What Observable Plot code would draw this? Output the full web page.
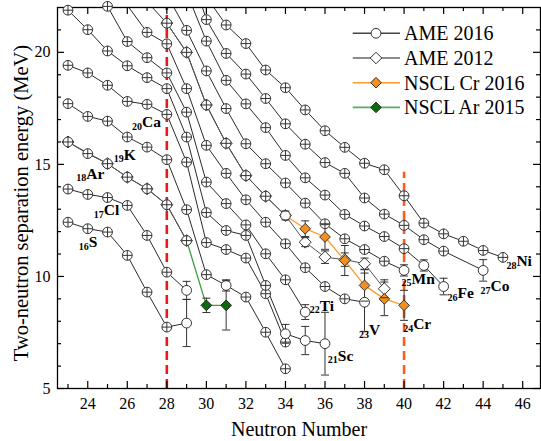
<!DOCTYPE html>
<html>
<head>
<meta charset="utf-8">
<script src="https://cdn.jsdelivr.net/npm/d3@7"></script>
<script src="https://cdn.jsdelivr.net/npm/@observablehq/plot@0.6"></script>
<style>
html,body{margin:0;padding:0;background:#fff;}
#chart svg{display:block;}
#chart svg text{font-family:"Liberation Serif","Times New Roman",serif;}
</style>
</head>
<body>
<div id="chart"></div>
<script>
// ---- tick labels ----
const neutronTicks = [24, 26, 28, 30, 32, 34, 36, 38, 40, 42, 44, 46];
const energyTicks = [5, 10, 15, 20];

// ---- AME 2016 two-neutron separation energies: [N, S2n (MeV), error] ----
const sulfur    = [[23,12.42],[24,12.13],[25,11.98],[26,10.94],[27,9.30],[28,7.74],[29,7.92,1.05]];
const chlorine  = [[23,13.90],[24,13.66],[25,13.52],[26,13.17],[27,11.83],[28,10.19],[29,9.38,0.4]];
const argon     = [[23,16.00],[24,15.48],[25,15.03],[26,14.43],[27,13.91],[28,13.20],[29,11.60]];
const potassium = [[23,17.71],[24,17.14],[25,16.93],[26,16.22],[27,15.77],[28,15.21],[29,12.98],[30,10.08],[31,9.60,0.25],[32,9.08],[33,7.51],[34,5.88]];
const calcium   = [[23,19.42],[24,19.08],[25,18.53],[26,17.81],[27,17.68],[28,17.23],[29,15.10],[30,11.51],[31,11.20],[32,10.82],[33,9.23],[34,7.07]];
const scandium  = [[23,21.88],[24,21.01],[25,20.06],[26,19.40],[27,18.87],[28,18.38],[29,16.22],[30,12.85],[31,12.05],[32,11.83],[33,9.60],[34,7.44,0.42],[35,7.14,0.63],[36,7.00,1.4]];
const titanium  = [[24,22.72],[25,22.05],[26,20.48],[27,19.76],[28,19.08],[29,17.33],[30,14.21],[31,13.25],[32,12.30],[33,11.01],[34,9.85],[35,8.41,0.33]];
const vanadium  = [[26,22.10],[27,20.89],[28,20.38],[29,18.38],[30,15.85],[31,14.60],[32,13.42],[33,12.42],[34,11.46],[35,10.39],[36,9.55],[37,9.00],[38,8.85,1.3]];
const chromium  = [[27,22.26],[28,21.30],[29,20.00],[30,17.65],[31,15.94],[32,14.50],[33,13.58],[34,12.72,0.2]];
const manganese = [[28,22.57],[29,20.98],[30,19.17],[31,17.49],[32,15.92],[33,15.03],[34,14.17],[35,13.27],[36,12.35],[37,11.68],[38,11.20],[39,10.68],[40,10.27,0.25]];
const iron      = [[29,22.68],[30,20.50],[31,18.75],[32,17.70],[33,16.64],[34,15.40],[35,14.40],[36,13.63],[37,12.77],[38,12.25],[39,11.78],[40,11.24],[41,10.49,0.25],[42,9.55,0.37]];
const cobalt    = [[29,24.20],[30,21.46],[31,19.95],[32,19.03],[33,17.94],[34,16.81],[35,15.90],[36,15.08],[37,14.60],[38,13.50],[39,12.78],[40,12.28],[41,11.64],[42,11.13],[44,10.27,0.48]];
const nickel    = [[30,22.47],[31,21.22],[32,20.39],[33,19.21],[34,18.42],[35,17.43],[36,16.50],[37,15.76],[38,15.05],[39,14.76],[40,13.60],[41,12.38],[42,11.90],[43,11.57],[44,11.16],[45,10.85]];

// ---- AME 2012 ----
const argon2012    = [[23,16.00],[25,15.03],[26,14.43],[27,13.91],[28,13.20],[29,11.60]];
const chromium2012 = [[28,21.30],[29,20.00],[30,17.65],[31,15.94],[32,14.50],[33,13.58],[34,12.72],[35,11.53,0.2],[36,10.86,0.28],[37,10.75,0.3],[38,10.57,0.25],[39,9.45,0.4]];

// ---- NSCL measurements (line starts from the last AME point) ----
const nsclCr2016 = [[35,12.13,0.35],[36,11.76,0.55],[37,10.71,0.67],[38,9.60,0.7],[39,9.00,0.75],[40,8.71,0.67]];
const nsclAr2015 = [[30,8.71,0.32],[31,8.71,1.1]];

// ---- chain labels: [Z, symbol, N, S2n] ----
const chainLabels = [
  ["16","S",24.05,11.53],["17","Cl",24.81,12.95],["18","Ar",23.93,14.58],["19","K",25.82,15.43],
  ["20","Ca",26.75,16.89],["21","Sc",36.65,6.47],["22","Ti",35.73,8.70],["23","V",38.23,7.59],
  ["24","Cr",40.46,7.86],["25","Mn",40.38,9.90],["26","Fe",42.70,9.25],["27","Co",44.37,9.55],["28","Ni",45.68,10.67]
];
const legendLabels = ["AME 2016", "AME 2012", "NSCL Cr 2016", "NSCL Ar 2015"];

// ---- build tables ----
const toRows = (el, pts) => pts.map(([N, v, err]) => ({el, N, v, err: err || 0}));
const chains2016 = [["S",sulfur],["Cl",chlorine],["Ar",argon],["K",potassium],["Ca",calcium],["Sc",scandium],
  ["Ti",titanium],["V",vanadium],["Cr",chromium],["Mn",manganese],["Fe",iron],["Co",cobalt],["Ni",nickel]];
const ame2016 = chains2016.flatMap(([el, pts]) => toRows(el, pts));
const ame2012 = [["Ar",argon2012],["Cr",chromium2012]].flatMap(([el, pts]) => toRows(el, pts));
const crStart = chromium.find(d => d[0] === 34);
const arStart = argon.find(d => d[0] === 29);
const nsclCr = toRows("Cr", [[crStart[0], crStart[1]], ...nsclCr2016]);
const nsclAr = toRows("Ar", [[arStart[0], arStart[1]], ...nsclAr2015]);

const visible = d => d.v <= 22.08;
const errRows = [...ame2016, ...ame2012, ...nsclCr.slice(1), ...nsclAr.slice(1)].filter(d => d.err > 0);
const capRows = errRows.flatMap(d => [{N: d.N, y: d.v - d.err}, {N: d.N, y: d.v + d.err}]);

// ---- custom symbols ----
const circleCross = {draw(ctx, size) { const r = Math.sqrt(size / Math.PI);
  ctx.moveTo(r, 0); ctx.arc(0, 0, r, 0, 2 * Math.PI);
  ctx.moveTo(-r, 0); ctx.lineTo(r, 0); ctx.moveTo(0, -r); ctx.lineTo(0, r); }};
const hbar = {draw(ctx, size) { const r = Math.sqrt(size / Math.PI); ctx.moveTo(-r, 0); ctx.lineTo(r, 0); }};

// ---- geometry ----
const W = 541, H = 441, mL = 57, mR = 1, mT = 7, mB = 53;
const fw = W - mL - mR, fh = H - mT - mB;
const xMinor = d3.range(23, 47, 2);
const yMinor = d3.range(6, 22).filter(d => d % 5 !== 0);
const serif = "Liberation Serif, Times New Roman, serif";

const plot = Plot.plot({
  width: W, height: H,
  marginLeft: mL, marginRight: mR, marginTop: mT, marginBottom: mB,
  style: {fontFamily: serif, fontSize: "16px", color: "#000", background: "#fff"},
  x: {domain: [22.47, 46.9]},
  y: {domain: [5, 22]},
  marks: [
    // chain lines
    Plot.line(ame2016, {x: "N", y: "v", z: "el", stroke: "#2b2b2b", strokeWidth: 1, clip: true}),
    Plot.line(ame2012, {x: "N", y: "v", z: "el", stroke: "#555", strokeWidth: 1, clip: true}),
    Plot.line(nsclCr, {x: "N", y: "v", stroke: "#ff9a30", strokeWidth: 1.3}),
    Plot.line(nsclAr, {x: "N", y: "v", stroke: "#3d9c3d", strokeWidth: 1.3}),
    // shell closures
    Plot.ruleX([28], {y1: 5, y2: 22, stroke: "#e8191b", strokeWidth: 2.6, strokeDasharray: "9,5"}),
    Plot.ruleX([40], {y1: 5, y2: 14.65, stroke: "#ff5a1f", strokeWidth: 2.6, strokeDasharray: "9,5"}),
    // frame and ticks
    Plot.frame({stroke: "#000", strokeWidth: 1.3}),
    Plot.tickX(neutronTicks, {x: d => d, insetTop: fh - 7, stroke: "#000", strokeWidth: 1.2}),
    Plot.tickX(neutronTicks, {x: d => d, insetBottom: fh - 7, stroke: "#000", strokeWidth: 1.2}),
    Plot.tickX(xMinor, {x: d => d, insetTop: fh - 4, stroke: "#000", strokeWidth: 1.2}),
    Plot.tickX(xMinor, {x: d => d, insetBottom: fh - 4, stroke: "#000", strokeWidth: 1.2}),
    Plot.tickY(energyTicks, {y: d => d, insetRight: fw - 7, stroke: "#000", strokeWidth: 1.2}),
    Plot.tickY(energyTicks, {y: d => d, insetLeft: fw - 7, stroke: "#000", strokeWidth: 1.2}),
    Plot.tickY(yMinor, {y: d => d, insetRight: fw - 4, stroke: "#000", strokeWidth: 1.2}),
    Plot.tickY(yMinor, {y: d => d, insetLeft: fw - 4, stroke: "#000", strokeWidth: 1.2}),
    Plot.axisX(neutronTicks, {tickSize: 0, tickPadding: 9, fontSize: 16, fontFamily: serif, label: null}),
    Plot.axisY(energyTicks, {tickSize: 0, tickPadding: 7, fontSize: 16, fontFamily: serif, label: null}),
    Plot.text(["Neutron Number"], {frameAnchor: "bottom", dy: 41, textAnchor: "middle", lineAnchor: "middle", fontSize: 20, fontFamily: serif}),
    Plot.text(["Two-neutron separation energy (MeV)"], {frameAnchor: "left", rotate: -90, dx: -36, dy: 5, textAnchor: "middle", lineAnchor: "middle", fontSize: 20.5, fontFamily: serif}),
    // error bars
    Plot.ruleX(errRows, {x: "N", y1: d => d.v - d.err, y2: d => d.v + d.err, stroke: "#333", strokeWidth: 1}),
    // markers
    Plot.dot(ame2012.filter(visible), {x: "N", y: "v", symbol: "diamond2", r: 5.4, fill: "white", stroke: "#333", strokeWidth: 1}),
    Plot.dot(ame2016.filter(d => visible(d) && !d.err), {x: "N", y: "v", symbol: circleCross, r: 4.9, fill: "white", stroke: "#333", strokeWidth: 1}),
    Plot.dot(ame2016.filter(d => visible(d) && d.err), {x: "N", y: "v", symbol: "circle", r: 4.9, fill: "white", stroke: "#333", strokeWidth: 1}),
    Plot.dot(nsclCr.slice(1), {x: "N", y: "v", symbol: "diamond2", r: 4.8, fill: "#f5901c", stroke: "#333", strokeWidth: 1}),
    Plot.dot(nsclAr.slice(1), {x: "N", y: "v", symbol: "diamond2", r: 4.8, fill: "#0a6b0a", stroke: "#222", strokeWidth: 1}),
    Plot.dot(capRows, {x: "N", y: "y", symbol: hbar, r: 4, stroke: "#333", strokeWidth: 1}),
    // chain labels
    Plot.text(chainLabels, {x: d => d[2], y: d => d[3], text: d => d[1], textAnchor: "start", fontWeight: "bold", fontSize: 15.5, fontFamily: serif}),
    Plot.text(chainLabels, {x: d => d[2], y: d => d[3], text: d => d[0], textAnchor: "end", fontWeight: "bold", fontSize: 10, dy: 4.5, fontFamily: serif})
  ]
});

// ---- legend (inside the frame, top right) ----
const svg = d3.select(plot);
const lg = svg.append("g").attr("font-family", serif).attr("font-size", 20).attr("text-anchor", "start");
const legendStyles = [
  {line: "#444", sym: d3.symbolCircle, r: 4.9, fill: "white"},
  {line: "#666", sym: d3.symbolDiamond2, r: 5.2, fill: "white"},
  {line: "#ff9a30", sym: d3.symbolDiamond2, r: 4.8, fill: "#f5901c"},
  {line: "#5aad5a", sym: d3.symbolDiamond2, r: 4.8, fill: "#0a6b0a"}
];
legendLabels.forEach((label, i) => {
  const y = 33.3 + i * 24.7, st = legendStyles[i];
  lg.append("line").attr("x1", 352.7).attr("x2", 400).attr("y1", y).attr("y2", y)
    .attr("stroke", st.line).attr("stroke-width", 1.6);
  lg.append("path").attr("d", d3.symbol(st.sym, Math.PI * st.r * st.r)())
    .attr("transform", `translate(376,${y})`).attr("fill", st.fill).attr("stroke", "#333");
  lg.append("text").attr("x", 404).attr("y", y).attr("dy", "0.35em").attr("text-anchor", "start").text(label);
});

document.getElementById("chart").appendChild(plot);
</script>
</body>
</html>
